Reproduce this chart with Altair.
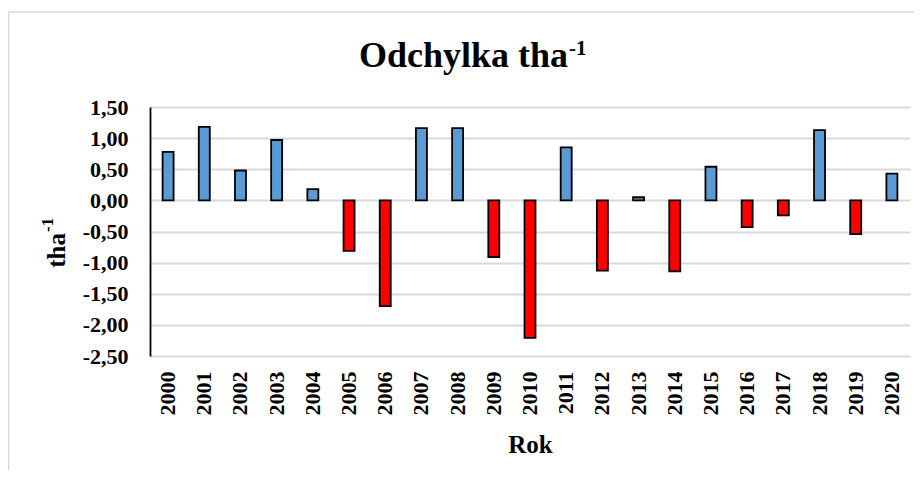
import altair as alt
import pandas as pd

years = [str(y) for y in range(2000, 2021)]
values = [0.78, 1.18, 0.48, 0.97, 0.18, -0.81, -1.70, 1.16, 1.16, -0.91, -2.21,
          0.85, -1.13, 0.05, -1.14, 0.54, -0.43, -0.24, 1.13, -0.54, 0.43]

title_main = "Odchylka tha"
title_sup = "-1"
y_title = "tha"
y_sup = "-1"
x_title = "Rok"

FONT = "Liberation Serif"
BLUE = "#5B9BD5"
RED = "#FF0000"
GRID = "#D9D9D9"

df = pd.DataFrame({"Rok": years, "val": values})

label_expr = "(datum.value < 0 ? '-' : '') + replace(format(abs(datum.value), '.2f'), '.', ',')"

bars = alt.Chart(df).mark_bar(size=11, stroke="black", strokeWidth=1.8).encode(
    x=alt.X("Rok:N", sort=years,
            scale=alt.Scale(paddingInner=0, paddingOuter=0),
            axis=alt.Axis(title=x_title, labelAngle=-90, labelAlign="right",
                          labelBaseline="middle", labelPadding=15, ticks=False,
                          tickSize=0, domain=False, grid=False,
                          labelFont=FONT, labelFontSize=22, labelFontWeight="bold",
                          labelColor="black",
                          titleFont=FONT, titleFontSize=25, titleFontWeight="bold",
                          titleColor="black", titleBaseline="alphabetic", titleY=96)),
    y=alt.Y("val:Q", scale=alt.Scale(domain=[-2.5, 1.5], nice=False),
            axis=alt.Axis(title=None, values=[-2.5, -2, -1.5, -1, -0.5, 0, 0.5, 1, 1.5],
                          labelExpr=label_expr, ticks=False, tickSize=0,
                          labelPadding=22, labelFont=FONT, labelFontSize=22,
                          labelFontWeight="bold", labelColor="black",
                          domain=True, domainColor="black", domainWidth=1.8,
                          grid=True, gridColor=GRID, gridWidth=1.8)),
    color=alt.condition(alt.datum.val > 0, alt.value(BLUE), alt.value(RED)),
)

one = pd.DataFrame({"k": [0]})

t_main = alt.Chart(one).mark_text(font=FONT, fontSize=36, fontWeight="bold",
                                  align="right", baseline="alphabetic", color="black").encode(
    x=alt.value(418), y=alt.value(-40.5), text=alt.value(title_main))
t_sup = alt.Chart(one).mark_text(font=FONT, fontSize=21, fontWeight="bold",
                                 align="left", baseline="alphabetic", color="black").encode(
    x=alt.value(419), y=alt.value(-52), text=alt.value(title_sup))

yt_main = alt.Chart(one).mark_text(font=FONT, fontSize=25, fontWeight="bold", angle=270,
                                   align="right", baseline="alphabetic", color="black").encode(
    x=alt.value(-85), y=alt.value(126), text=alt.value(y_title))
yt_sup = alt.Chart(one).mark_text(font=FONT, fontSize=17, fontWeight="bold", angle=270,
                                  align="left", baseline="alphabetic", color="black").encode(
    x=alt.value(-97), y=alt.value(125), text=alt.value(y_sup))

border_left = alt.Chart(one).mark_rule(color=GRID, strokeWidth=1.5).encode(
    x=alt.value(-141.5), y=alt.value(-95), y2=alt.value(400))
border_top = alt.Chart(one).mark_rule(color=GRID, strokeWidth=1.5).encode(
    x=alt.value(-141.5), x2=alt.value(800), y=alt.value(-95))

chart = alt.layer(border_left, border_top, bars, t_main, t_sup, yt_main, yt_sup).properties(
    width=760, height=249,
    autosize=alt.AutoSizeParams(type="none"),
    padding={"left": 142, "top": 99, "right": 4, "bottom": 114},
    background="white",
).configure_view(stroke=None)

chart.save("out.html", embed_options={"renderer": "svg", "actions": False})
